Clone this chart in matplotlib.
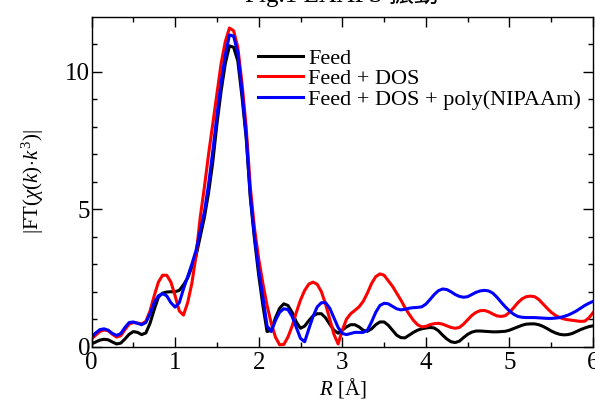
import numpy as np
import matplotlib
matplotlib.use('Agg')
import matplotlib.pyplot as plt

# R grid [Angstrom]
r = np.round(np.arange(0, 6.001, 0.05), 2)

feed = [0.10, 0.17, 0.24, 0.27, 0.25, 0.17, 0.10, 0.13, 0.28, 0.45,
        0.55, 0.52, 0.44, 0.50, 0.85, 1.35, 1.80, 1.95, 1.99, 2.00,
        2.00, 2.05, 2.25, 2.50, 2.90, 3.30, 4.00, 4.70, 5.60, 6.70,
        8.10, 9.30, 10.30, 10.95, 10.90, 10.40, 9.10, 7.60, 5.40, 3.90,
        2.60, 1.50, 0.55, 0.60, 1.05, 1.40, 1.56, 1.50, 1.25, 0.90,
        0.67, 0.75, 0.95, 1.12, 1.20, 1.20, 1.05, 0.82, 0.60, 0.49,
        0.60, 0.72, 0.80, 0.80, 0.72, 0.60, 0.56, 0.65, 0.80, 0.90,
        0.90, 0.78, 0.60, 0.42, 0.33, 0.32, 0.42, 0.52, 0.60, 0.65,
        0.68, 0.70, 0.68, 0.58, 0.42, 0.28, 0.18, 0.15, 0.20, 0.33,
        0.45, 0.53, 0.57, 0.57, 0.56, 0.55, 0.54, 0.54, 0.55, 0.56,
        0.60, 0.66, 0.72, 0.78, 0.82, 0.83, 0.83, 0.80, 0.74, 0.66,
        0.57, 0.50, 0.45, 0.43, 0.44, 0.48, 0.55, 0.62, 0.68, 0.73,
        0.76]

feed_dos = [0.28, 0.42, 0.55, 0.61, 0.58, 0.45, 0.35, 0.40, 0.62, 0.82,
            0.88, 0.86, 0.83, 0.92, 1.30, 1.85, 2.35, 2.60, 2.60, 2.35,
            1.85, 1.30, 1.15, 1.60, 2.30, 3.30, 4.70, 5.80, 7.00, 8.10,
            9.20, 10.30, 11.10, 11.60, 11.50, 10.90, 9.60, 8.00, 5.80, 4.30,
            3.20, 2.30, 1.50, 0.85, 0.35, 0.07, 0.08, 0.35, 0.75, 1.25,
            1.70, 2.05, 2.28, 2.35, 2.27, 2.00, 1.55, 1.00, 0.45, 0.10,
            0.60, 1.00, 1.20, 1.32, 1.45, 1.65, 1.95, 2.30, 2.55, 2.65,
            2.60, 2.40, 2.20, 1.95, 1.70, 1.42, 1.18, 0.96, 0.80, 0.72,
            0.74, 0.80, 0.84, 0.85, 0.82, 0.76, 0.70, 0.67, 0.70, 0.82,
            0.98, 1.14, 1.25, 1.31, 1.32, 1.27, 1.19, 1.12, 1.10, 1.13,
            1.25, 1.42, 1.60, 1.74, 1.82, 1.84, 1.82, 1.72, 1.56, 1.40,
            1.25, 1.14, 1.06, 1.01, 0.98, 0.96, 0.94, 0.92, 0.93, 1.05,
            1.24]

feed_dos_nipaam = [0.35, 0.50, 0.62, 0.65, 0.60, 0.48, 0.41, 0.48, 0.70, 0.88,
                   0.90, 0.85, 0.80, 0.88, 1.20, 1.60, 1.85, 1.93, 1.85, 1.60,
                   1.44, 1.60, 2.10, 2.55, 3.00, 3.50, 4.20, 4.90, 5.90, 7.10,
                   8.40, 9.60, 10.60, 11.35, 11.30, 10.70, 9.30, 7.70, 5.50, 4.00,
                   2.80, 1.80, 0.75, 0.55, 0.95, 1.25, 1.38, 1.35, 1.10, 0.70,
                   0.30, 0.18, 0.65, 1.10, 1.45, 1.60, 1.60, 1.40, 1.05, 0.70,
                   0.48, 0.44, 0.48, 0.52, 0.52, 0.52, 0.60, 0.90, 1.25, 1.50,
                   1.58, 1.56, 1.47, 1.38, 1.34, 1.36, 1.40, 1.42, 1.43, 1.45,
                   1.55, 1.72, 1.90, 2.04, 2.10, 2.08, 2.00, 1.90, 1.83, 1.80,
                   1.82, 1.90, 1.98, 2.03, 2.05, 2.03, 1.95, 1.80, 1.62, 1.45,
                   1.30, 1.18, 1.10, 1.07, 1.06, 1.06, 1.06, 1.05, 1.04, 1.03,
                   1.03, 1.04, 1.06, 1.10, 1.15, 1.22, 1.30, 1.40, 1.50, 1.58,
                   1.65]

labels = ['Feed', 'Feed + DOS', 'Feed + DOS + poly(NIPAAm)']
colors = ['black', 'red', 'blue']

plt.rcParams['font.family'] = ['Liberation Serif', 'Noto Sans CJK JP']
plt.rcParams['mathtext.fontset'] = 'custom'
plt.rcParams['mathtext.rm'] = 'Liberation Serif'
plt.rcParams['mathtext.it'] = 'Liberation Serif:italic'

fig = plt.figure(figsize=(5.95, 4.05), dpi=100)
ax = fig.add_axes([0.1538, 0.144, 0.843, 0.814])

for y, lab, c in zip([feed, feed_dos, feed_dos_nipaam], labels, colors):
    ax.plot(r, y, color=c, lw=2.2, label=lab)

ax.set_xlim(0, 6)
ax.set_ylim(0, 12)
ax.set_xticks(range(0, 7))
ax.set_xticks(np.arange(0.5, 6, 1), minor=True)
ax.set_yticks([0, 5, 10])
ax.set_yticks([1, 2, 3, 4, 6, 7, 8, 9, 11], minor=True)
ax.tick_params(which='both', direction='in', top=True, right=True, width=1.0)
ax.tick_params(which='major', length=7, labelsize=18)
ax.tick_params(axis='y', which='major', pad=1)
ax.tick_params(axis='x', which='major', pad=4)
ax.tick_params(which='minor', length=3.5)
for s in ax.spines.values():
    s.set_linewidth(1.0)

ax.set_xlabel(r'$R$ [Å]', fontsize=15, labelpad=1)
ax.set_ylabel(r'$|\mathrm{FT}(\chi(k)\!\cdot\! k^3)|$', fontsize=15, labelpad=14)
ax.set_title('Fig.1 EXAFS 振動', fontsize=18, pad=11)

ax.legend(loc='upper left', bbox_to_anchor=(0.332, 0.906), frameon=False,
          fontsize=16, handlelength=2.03, handletextpad=0.23,
          labelspacing=0.0, borderaxespad=0, borderpad=0)

fig.savefig('out.png', dpi=100)
